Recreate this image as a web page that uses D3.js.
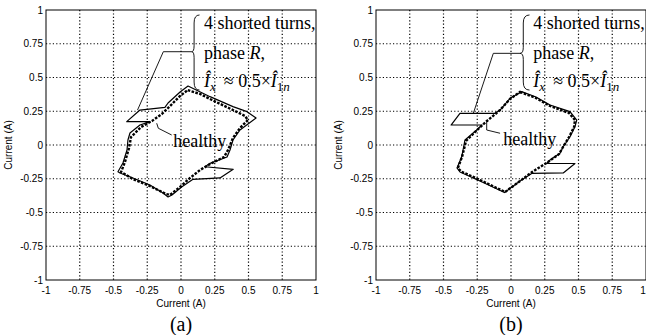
<!DOCTYPE html>
<html>
<head>
<meta charset="utf-8">
<script src="https://cdn.jsdelivr.net/npm/d3@7"></script>
<style>
  body { margin: 0; background: #fff; }
  svg { display: block; }
  .tick-label { font-family: "Liberation Sans", Arial, sans-serif; font-size: 10px; fill: #000; }
  .note { font-family: "Liberation Serif", "Times New Roman", serif; font-size: 18px; fill: #000; }
</style>
</head>
<body>
<svg id="chart" width="646" height="335"></svg>
<script>
// tick values shared by both axes
const ticks = [-1, -0.75, -0.5, -0.25, 0, 0.25, 0.5, 0.75, 1];
const tickLabels = ['-1', '-0.75', '-0.5', '-0.25', '0', '0.25', '0.5', '0.75', '1'];

// (a) faulted (solid) and healthy (dashed) loci, [x, y] in A
const faultA = [
  [0.052, 0.437], [0.215, 0.358], [0.385, 0.284], [0.489, 0.247], [0.556, 0.200],
  [0.437, 0.111], [0.385, 0.037], [0.363, -0.037], [0.341, -0.089], [0.215, -0.136],
  [0.178, -0.161], [0.387, -0.180], [0.289, -0.244], [0.089, -0.254], [0.007, -0.309],
  [-0.067, -0.370], [-0.096, -0.385], [-0.133, -0.356], [-0.230, -0.296], [-0.356, -0.244],
  [-0.452, -0.207], [-0.467, -0.198], [-0.430, -0.133], [-0.400, -0.037], [-0.393, 0.037],
  [-0.378, 0.089], [-0.304, 0.148], [-0.230, 0.173], [-0.402, 0.173], [-0.304, 0.259],
  [-0.119, 0.279], [-0.096, 0.311], [-0.007, 0.393]
];
const healthyA = [
  [0.050, 0.407], [0.141, 0.378], [0.230, 0.333], [0.385, 0.259], [0.474, 0.215],
  [0.496, 0.185], [0.437, 0.126], [0.385, 0.052], [0.348, -0.037], [0.319, -0.089],
  [0.230, -0.133], [0.141, -0.185], [0.067, -0.244], [-0.007, -0.311], [-0.081, -0.370],
  [-0.111, -0.363], [-0.230, -0.304], [-0.356, -0.252], [-0.444, -0.200], [-0.415, -0.126],
  [-0.385, -0.022], [-0.370, 0.059], [-0.296, 0.133], [-0.215, 0.178], [-0.141, 0.230],
  [-0.074, 0.296], [-0.007, 0.363]
];

// (b)
const faultB = [
  [0.079, 0.395], [0.185, 0.356], [0.289, 0.296], [0.437, 0.247], [0.487, 0.185],
  [0.474, 0.136], [0.437, 0.061], [0.387, -0.013], [0.363, -0.061], [0.289, -0.111],
  [0.264, -0.136], [0.474, -0.137], [0.387, -0.207], [0.156, -0.210], [0.067, -0.267],
  [-0.048, -0.352], [-0.230, -0.267], [-0.378, -0.200], [-0.400, -0.170], [-0.365, -0.087],
  [-0.341, 0.037], [-0.254, 0.111], [-0.215, 0.148], [-0.444, 0.148], [-0.378, 0.235],
  [-0.119, 0.235], [-0.081, 0.259], [-0.007, 0.346]
];
const healthyB = [
  [0.067, 0.393], [0.185, 0.348], [0.289, 0.289], [0.430, 0.237], [0.474, 0.185],
  [0.467, 0.133], [0.430, 0.059], [0.385, -0.015], [0.356, -0.067], [0.274, -0.126],
  [0.156, -0.200], [0.067, -0.267], [-0.044, -0.348], [-0.230, -0.259], [-0.370, -0.196],
  [-0.393, -0.170], [-0.363, -0.089], [-0.333, 0.030], [-0.252, 0.111], [-0.178, 0.178],
  [-0.081, 0.259], [-0.007, 0.341]
];

// annotation anchors (data units)
const panels = [
  {
    id: 'a', left: 46, fault: faultA, healthy: healthyA,
    leader: [[0.079, 0.691], [-0.131, 0.691], [-0.322, 0.259]],
    brace: { x: 0.115, top: 0.963, mid: 0.691, bottom: 0.407 },
    textX: 0.17, textY: [0.859, 0.640, 0.430],
    healthyLeader: [[-0.180, 0.161], [-0.168, 0.124], [-0.069, 0.074]],
    healthyText: [-0.057, -0.013]
  },
  {
    id: 'b', left: 376, fault: faultB, healthy: healthyB,
    leader: [[0.067, 0.679], [-0.131, 0.679], [-0.279, 0.235]],
    brace: { x: 0.115, top: 0.963, mid: 0.679, bottom: 0.407 },
    textX: 0.165, textY: [0.859, 0.640, 0.430],
    healthyLeader: [[-0.180, 0.173], [-0.180, 0.111], [-0.081, 0.087]],
    healthyText: [-0.057, 0.0]
  }
];

const width = 646, size = 270, plotTop = 10;
const svg = d3.select('#chart');

panels.forEach(p => {
  const x = d3.scaleLinear().domain([-1, 1]).range([0, size]);
  const y = d3.scaleLinear().domain([-1, 1]).range([size, 0]);
  const g = svg.append('g').attr('transform', `translate(${p.left}, ${plotTop})`);

  // dotted grid
  g.selectAll('.gx').data(ticks.slice(1, -1)).enter().append('line')
    .attr('x1', d => x(d)).attr('x2', d => x(d)).attr('y1', 0).attr('y2', size)
    .attr('stroke', '#000').attr('stroke-width', 1.2).attr('stroke-dasharray', '1.2,2.2');
  g.selectAll('.gy').data(ticks.slice(1, -1)).enter().append('line')
    .attr('y1', d => y(d)).attr('y2', d => y(d)).attr('x1', 0).attr('x2', size)
    .attr('stroke', '#000').attr('stroke-width', 1.2).attr('stroke-dasharray', '1.2,2.2');

  g.append('rect').attr('width', size).attr('height', size)
    .attr('fill', 'none').attr('stroke', '#000').attr('stroke-width', 1);

  // tick labels (the last one on the right panel is pulled in from the page edge)
  g.selectAll('.xl').data(ticks).enter().append('text')
    .attr('class', 'tick-label').attr('text-anchor', 'middle')
    .attr('x', d => Math.min(x(d), width - p.left - 3)).attr('y', size + 14)
    .text((d, i) => tickLabels[i]);
  g.selectAll('.yl').data(ticks).enter().append('text')
    .attr('class', 'tick-label').attr('text-anchor', 'end')
    .attr('x', -3).attr('y', d => y(d) + 3.5)
    .text((d, i) => tickLabels[i]);

  g.append('text').attr('class', 'tick-label').attr('text-anchor', 'middle')
    .attr('x', size / 2).attr('y', size + 27).text('Current (A)');
  g.append('text').attr('class', 'tick-label').attr('text-anchor', 'middle')
    .attr('transform', `translate(-34, ${size / 2}) rotate(-90)`).text('Current (A)');

  g.append('text').attr('class', 'note').attr('text-anchor', 'middle')
    .style('font-size', '20px')
    .attr('x', size / 2).attr('y', size + 51).text(`(${p.id})`);

  const line = d3.line().x(d => x(d[0])).y(d => y(d[1])).curve(d3.curveLinearClosed);

  g.append('path').attr('d', line(p.fault))
    .attr('fill', 'none').attr('stroke', '#000').attr('stroke-width', 1.2)
    .attr('stroke-linejoin', 'round');
  g.append('path').attr('d', line(p.healthy))
    .attr('fill', 'none').attr('stroke', '#000').attr('stroke-width', 2.4)
    .attr('stroke-dasharray', '2.6,1.4');

  // leader lines
  const open = d3.line().x(d => x(d[0])).y(d => y(d[1]));
  g.append('path').attr('d', open(p.leader))
    .attr('fill', 'none').attr('stroke', '#000').attr('stroke-width', 0.9);
  g.append('path').attr('d', open(p.healthyLeader))
    .attr('fill', 'none').attr('stroke', '#000').attr('stroke-width', 0.9);

  // curly brace
  const bx = x(p.brace.x), bt = y(p.brace.top), bm = y(p.brace.mid), bb = y(p.brace.bottom);
  const tip = x(p.leader[0][0]);
  const w = bx - tip;
  const brace = `M${bx + 3},${bt} Q${bx - w * 0.5},${bt} ${bx - w * 0.5},${bt + 8}
    L${bx - w * 0.5},${bm - 6} Q${bx - w * 0.5},${bm} ${tip},${bm}
    Q${bx - w * 0.5},${bm} ${bx - w * 0.5},${bm + 6}
    L${bx - w * 0.5},${bb - 8} Q${bx - w * 0.5},${bb} ${bx + 3},${bb}`;
  g.append('path').attr('d', brace)
    .attr('fill', 'none').attr('stroke', '#000').attr('stroke-width', 0.9);

  // annotation text
  const tx = x(p.textX);
  g.append('text').attr('class', 'note').attr('x', tx).attr('y', y(p.textY[0]))
    .text('4 shorted turns,');
  const t2 = g.append('text').attr('class', 'note').attr('x', tx).attr('y', y(p.textY[1]));
  t2.append('tspan').text('phase ');
  t2.append('tspan').style('font-style', 'italic').text('R');
  t2.append('tspan').text(',');
  const t3 = g.append('text').attr('class', 'note').attr('x', tx).attr('y', y(p.textY[2]));
  t3.append('tspan').style('font-style', 'italic').text('\u00CE');
  t3.append('tspan').style('font-style', 'italic').style('font-size', '13px').attr('dy', 4).text('x');
  t3.append('tspan').attr('dy', -4).text('\u2009 \u2248 0.5\u00D7');
  t3.append('tspan').style('font-style', 'italic').text('\u00CE');
  t3.append('tspan').style('font-size', '13px').attr('dy', 4).text('1');
  t3.append('tspan').style('font-size', '13px').style('font-style', 'italic').text('n');

  g.append('text').attr('class', 'note')
    .attr('x', x(p.healthyText[0])).attr('y', y(p.healthyText[1]))
    .text('healthy');
});
</script>
</body>
</html>
